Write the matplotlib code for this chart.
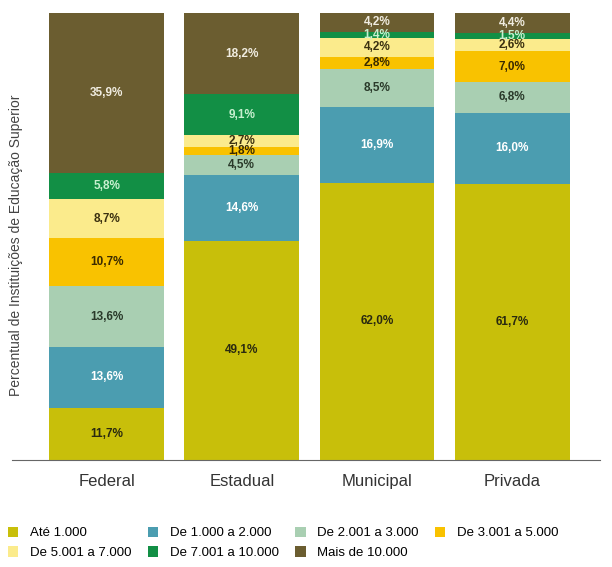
import matplotlib.pyplot as plt
import numpy as np

plt.rcParams['font.family'] = ['Liberation Sans', 'DejaVu Sans']

categorias = ['Federal', 'Estadual', 'Municipal', 'Privada']
faixas = ['Até 1.000', 'De 1.000 a 2.000', 'De 2.001 a 3.000', 'De 3.001 a 5.000',
          'De 5.001 a 7.000', 'De 7.001 a 10.000', 'Mais de 10.000']

# percentuais por faixa (de baixo para cima), uma lista por categoria
ate_1000 = [11.7, 49.1, 62.0, 61.7]
de_1000_2000 = [13.6, 14.6, 16.9, 16.0]
de_2001_3000 = [13.6, 4.5, 8.5, 6.8]
de_3001_5000 = [10.7, 1.8, 2.8, 7.0]
de_5001_7000 = [8.7, 2.7, 4.2, 2.6]
de_7001_10000 = [5.8, 9.1, 1.4, 1.5]
mais_10000 = [35.9, 18.2, 4.2, 4.4]

series = [ate_1000, de_1000_2000, de_2001_3000, de_3001_5000,
          de_5001_7000, de_7001_10000, mais_10000]
cores = ['#c8bf0a', '#4b9db0', '#a9cfb2', '#f9c200', '#fbeb8c', '#128f45', '#6b5d30']
cores_texto = ['#2a2a10', 'white', '#2a3a2a', '#3a2a00', '#3a3010', '#c8f0d0', '#f0ece0']

fig = plt.figure(figsize=(6.12, 5.67), dpi=100)
ax = fig.add_axes([12/612, 1 - 460/567, 588/612, 447/567])

x = np.arange(len(categorias))
base = np.zeros(len(categorias))
handles = []
for vals, cor, ct, nome in zip(series, cores, cores_texto, faixas):
    b = ax.bar(x, vals, 0.85, bottom=base, color=cor, label=nome)
    handles.append(b)
    for xi, v, bo in zip(x, vals, base):
        ax.text(xi, bo + v / 2, ('%.1f%%' % v).replace('.', ','), ha='center',
                va='center', fontsize=8.5, fontweight='bold', color=ct)
    base = base + vals

ax.set_xlim(-0.70, 3.65)
ax.set_ylim(0, 100)
ax.set_xticks(x)
ax.set_xticklabels(categorias, fontsize=12, color='#333333')
ax.tick_params(axis='x', length=0, pad=10)
ax.set_yticks([])
for s in ['top', 'right', 'left']:
    ax.spines[s].set_visible(False)
ax.spines['bottom'].set_color('#666666')
fig.text(16/612, 1 - 245/567, 'Percentual de Instituições de Educação Superior',
         rotation=90, ha='center', va='center', fontsize=10, color='#444444')

ordem = [0, 4, 1, 5, 2, 6, 3]
fig.legend([handles[i] for i in ordem], [faixas[i] for i in ordem], ncol=4,
           loc='lower left', bbox_to_anchor=(0.0, 0.0), frameon=False,
           fontsize=9.5, handlelength=0.8, handleheight=0.8, handletextpad=0.9,
           columnspacing=1.2, labelspacing=0.55, borderaxespad=0.2)

plt.savefig('out.png')
